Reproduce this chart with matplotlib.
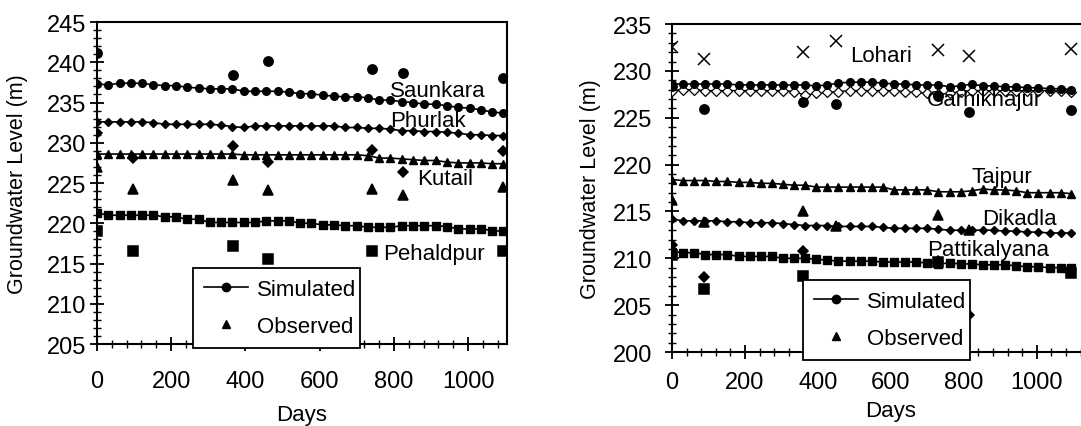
import numpy as np
import matplotlib
matplotlib.use("Agg")
import matplotlib.pyplot as plt
from matplotlib.ticker import MultipleLocator

plt.rcParams['font.family'] = ['Liberation Sans', 'DejaVu Sans']

# simulated heads, roughly monthly (days)
sim_days = [0, 30, 61, 91, 122, 152, 183, 213, 243, 274, 304, 335, 365, 396, 426, 456, 487, 517,
            548, 578, 609, 639, 669, 700, 730, 761, 791, 822, 852, 882, 913, 943, 974, 1004,
            1035, 1065, 1095]

# ---- left panel ----
saunkara_sim = [237.3, 237.2, 237.4, 237.4, 237.4, 237.2, 237.1, 237.1, 236.9, 236.8, 236.7, 236.7,
                236.7, 236.4, 236.4, 236.4, 236.4, 236.3, 236.1, 236.1, 235.9, 235.8, 235.7, 235.7,
                235.6, 235.3, 235.3, 235.1, 235.0, 234.8, 234.8, 234.6, 234.4, 234.3, 234.1, 233.8, 233.7]
phurlak_sim = [232.6, 232.6, 232.6, 232.6, 232.6, 232.5, 232.3, 232.3, 232.3, 232.3, 232.3, 232.2,
               232.0, 231.9, 232.1, 232.1, 232.1, 232.1, 232.1, 232.1, 232.1, 232.1, 231.9, 231.9,
               231.8, 231.8, 231.7, 231.5, 231.5, 231.4, 231.4, 231.3, 231.2, 231.0, 231.0, 230.9, 230.9]
kutail_sim = [228.6, 228.6, 228.6, 228.6, 228.6, 228.6, 228.6, 228.6, 228.6, 228.6, 228.6, 228.6,
              228.6, 228.5, 228.5, 228.5, 228.5, 228.5, 228.5, 228.5, 228.5, 228.5, 228.5, 228.5,
              228.4, 228.1, 228.1, 228.0, 227.9, 227.8, 227.8, 227.6, 227.5, 227.5, 227.5, 227.4, 227.4]
pehaldpur_sim = [221.3, 221.0, 221.0, 221.0, 221.0, 221.0, 220.8, 220.8, 220.5, 220.5, 220.1, 220.1,
                 220.1, 220.1, 220.1, 220.3, 220.3, 220.3, 220.0, 220.0, 219.8, 219.8, 219.7, 219.7,
                 219.5, 219.5, 219.5, 219.7, 219.7, 219.7, 219.7, 219.6, 219.3, 219.3, 219.3, 219.1, 219.0]

obs_days_left = [0, 96, 366, 462, 741, 826, 1095]
saunkara_obs = [241.1, np.nan, 238.4, 240.2, 239.2, 238.7, 238.1]
phurlak_obs = [231.2, 228.1, 229.6, 227.6, 229.1, 226.4, 229.0]
kutail_obs = [227.0, 224.3, 225.4, 224.1, 224.3, 223.5, 224.5]
pehaldpur_obs = [219.1, 216.6, 217.2, 215.6, 216.6, np.nan, 216.6]

# ---- right panel ----
garhikhajur_sim = [228.6, 228.6, 228.6, 228.6, 228.6, 228.6, 228.5, 228.5, 228.5, 228.5, 228.5, 228.5,
                   228.5, 228.4, 228.5, 228.7, 228.8, 228.8, 228.8, 228.7, 228.6, 228.6, 228.5, 228.5,
                   228.5, 228.3, 228.4, 228.6, 228.4, 228.4, 228.3, 228.3, 228.2, 228.2, 228.1, 228.1, 228.0]
lohari_sim = [227.9, 228.0, 228.0, 227.9, 227.9, 227.9, 227.9, 227.9, 227.9, 227.9, 227.9, 227.8,
              227.4, 227.6, 227.7, 227.8, 227.9, 227.9, 227.9, 227.9, 227.9, 227.8, 227.7, 227.6,
              227.5, 227.6, 227.8, 227.9, 227.9, 227.9, 227.9, 227.9, 227.9, 227.9, 227.9, 227.9, 227.8]
tajpur_sim = [218.4, 218.3, 218.3, 218.3, 218.2, 218.2, 218.1, 218.1, 218.0, 218.0, 217.9, 217.8,
              217.8, 217.6, 217.6, 217.6, 217.6, 217.6, 217.6, 217.6, 217.3, 217.3, 217.3, 217.3,
              217.1, 217.1, 217.1, 217.2, 217.4, 217.3, 217.3, 217.2, 217.0, 217.0, 217.0, 217.0, 216.9]
dikadla_sim = [214.2, 214.0, 214.0, 214.0, 214.0, 213.9, 213.9, 213.8, 213.8, 213.8, 213.7, 213.6,
               213.5, 213.5, 213.5, 213.4, 213.4, 213.4, 213.4, 213.3, 213.2, 213.2, 213.2, 213.2,
               213.1, 213.0, 213.0, 213.0, 213.0, 213.0, 212.9, 212.9, 212.8, 212.8, 212.7, 212.7, 212.7]
pattikalyana_sim = [210.7, 210.6, 210.6, 210.4, 210.4, 210.4, 210.2, 210.2, 210.2, 210.2, 210.0, 210.0,
                    210.0, 209.9, 209.8, 209.7, 209.7, 209.7, 209.7, 209.6, 209.6, 209.6, 209.6, 209.5,
                    209.4, 209.5, 209.4, 209.4, 209.3, 209.3, 209.3, 209.2, 209.1, 209.1, 209.0, 209.0, 209.0]

obs_days_right = [0, 89, 360, 451, 730, 813, 1095]
lohari_obs = [232.5, 231.3, 232.0, 233.2, 232.2, 231.6, 232.3]
garhikhajur_obs = [228.4, 225.9, 226.7, 226.5, 227.3, 225.6, 225.8]
tajpur_obs = [216.2, 213.9, 215.1, 213.4, 214.6, 213.0, np.nan]
dikadla_obs = [211.4, 208.0, 210.8, np.nan, 209.7, 203.9, np.nan]
pattikalyana_obs = [210.4, 206.7, 208.1, np.nan, 209.6, np.nan, 208.4]

left_sites = [("Saunkara", saunkara_sim, saunkara_obs, 'o', 789, 236.5),
              ("Phurlak", phurlak_sim, phurlak_obs, 'D', 789, 232.8),
              ("Kutail", kutail_sim, kutail_obs, '^', 864, 225.6),
              ("Pehaldpur", pehaldpur_sim, pehaldpur_obs, 's', 770, 216.3)]
right_sites = [("Lohari", lohari_sim, lohari_obs, 'x', 488, 231.6),
               ("Garhikhajur", garhikhajur_sim, garhikhajur_obs, 'o', 699, 227.0),
               ("Tajpur", tajpur_sim, tajpur_obs, '^', 822, 218.7),
               ("Dikadla", dikadla_sim, dikadla_obs, 'D', 849, 214.2),
               ("Pattikalyana", pattikalyana_sim, pattikalyana_obs, 's', 699, 210.9)]

msize = {'o': 5.5, 'D': 4.2, '^': 5.5, 's': 5.5, 'x': 7}

fig = plt.figure(figsize=(10.81, 4.27), dpi=100)
ax1 = fig.add_axes([0.0897, 0.192, 0.3793, 0.754])
ax2 = fig.add_axes([0.6216, 0.1733, 0.405, 0.768])


def draw(ax, sites, obs_days, ylim, xmax, leg_box, ytick_pad, xtick_pad, xlab_pad, ylab_pad):
    for name, sim, obs, mk, tx, ty in sites:
        if mk == 'x':
            # Lohari simulated drawn with open diamonds on the line
            ax.plot(sim_days, sim, color='black', lw=1.0, marker='D', ms=5,
                    mfc='white', mec='black', mew=0.9, zorder=3)
        else:
            ax.plot(sim_days, sim, color='black', lw=1.2, marker=mk, ms=msize[mk],
                    mfc='black', mec='black', zorder=3)
        ax.plot(obs_days, obs, linestyle='none', marker=mk, ms=msize[mk] + 1.2,
                color='black', mew=1.1, zorder=4)
        ax.text(tx, ty, name, fontsize=16, va='center', ha='left', zorder=5)
    ax.set_xlim(0, xmax)
    ax.set_ylim(*ylim)
    ax.set_xticks([0, 200, 400, 600, 800, 1000])
    ax.xaxis.set_minor_locator(MultipleLocator(40))
    ax.yaxis.set_major_locator(MultipleLocator(5))
    ax.yaxis.set_minor_locator(MultipleLocator(1))
    ax.tick_params(which='major', direction='inout', length=10, width=1.3, labelsize=17)
    ax.tick_params(which='minor', direction='inout', length=6, width=1.0)
    ax.tick_params(axis='x', which='major', pad=xtick_pad)
    ax.tick_params(axis='y', which='major', pad=ytick_pad)
    for sp in ax.spines.values():
        sp.set_linewidth(1.5)
    ax.set_xlabel("Days", fontsize=16, labelpad=xlab_pad)
    ax.set_ylabel("Groundwater Level (m)", fontsize=15.5, labelpad=ylab_pad)
    h1, = ax.plot([], [], color='black', lw=1.2, marker='o', ms=6)
    h2, = ax.plot([], [], linestyle='none', color='black', marker='^', ms=6)
    leg = ax.legend([h1, h2], ["Simulated", "Observed"], loc='lower left',
                    bbox_to_anchor=leg_box, mode='expand', borderaxespad=0, fontsize=16,
                    frameon=True, fancybox=False, edgecolor='black', framealpha=1,
                    borderpad=0.5, labelspacing=0.7, handlelength=2.0, handletextpad=0.4)
    leg.get_frame().set_linewidth(1.3)
    leg.set_zorder(6)


draw(ax1, left_sites, obs_days_left, (205, 245), 1105, (0.234, -0.012, 0.407, 0.248), 3, 14, 8, 13)
draw(ax2, right_sites, obs_days_right, (200, 235), 1200, (0.299, -0.024, 0.381, 0.262), 9, 9, 5, 9)

fig.savefig("out.png", dpi=100)
